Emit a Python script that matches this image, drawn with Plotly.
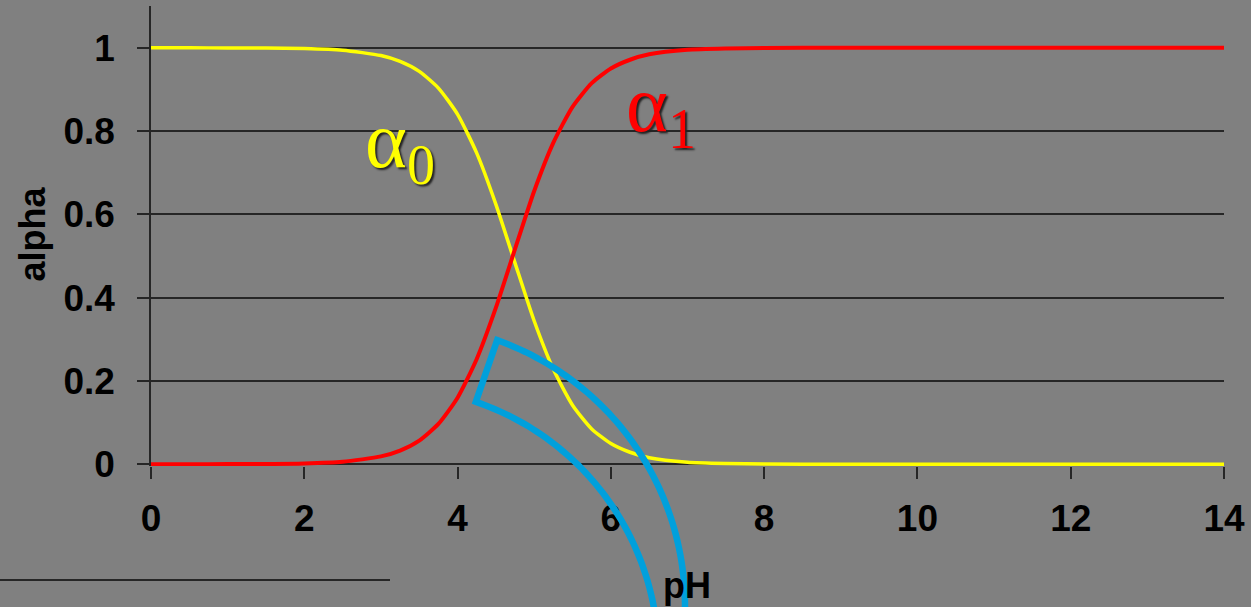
import numpy as np
import plotly.graph_objects as go

# ---- data ----
ph = [0, 0.5, 1, 1.5, 2, 2.5, 3, 3.25, 3.5, 3.75, 4, 4.25, 4.5, 4.75, 5, 5.25,
      5.5, 5.75, 6, 6.25, 6.5, 7, 7.5, 8, 9, 10, 11, 12, 13, 14]
alpha0 = [1.000, 1.000, 0.999, 0.999, 0.998, 0.994, 0.981, 0.967, 0.943, 0.903,
          0.840, 0.747, 0.624, 0.483, 0.344, 0.228, 0.142, 0.085, 0.050, 0.029,
          0.016, 0.005, 0.002, 0.001, 0.000, 0.000, 0.000, 0.000, 0.000, 0.000]
alpha1 = [0.000, 0.000, 0.001, 0.001, 0.002, 0.006, 0.019, 0.033, 0.057, 0.097,
          0.160, 0.253, 0.376, 0.517, 0.656, 0.772, 0.858, 0.915, 0.950, 0.971,
          0.984, 0.995, 0.998, 0.999, 1.000, 1.000, 1.000, 1.000, 1.000, 1.000]
x_ticks = [0, 2, 4, 6, 8, 10, 12, 14]
x_ticktext = ["0", "2", "4", "6", "8", "10", "12", "14"]
y_ticks = [0, 0.2, 0.4, 0.6, 0.8, 1]
y_ticktext = ["0", "0.2", "0.4", "0.6", "0.8", "1"]

W, H = 1251, 607
ML, MR, MT, MB = 151, 27, 6, 141
PW, PH = W - ML - MR, H - MT - MB

def px2paper(x, y):
    return (x - ML) / PW, (H - MB - y) / PH

BG = "#808080"
DARK = "#262626"
FONT = "Liberation Sans, Arial, sans-serif"

fig = go.Figure()
fig.add_trace(go.Scatter(x=ph, y=alpha0, mode="lines", line=dict(color="#FFFF00", width=3.5, shape="spline", smoothing=0.6),
                         showlegend=False, hoverinfo="skip"))
fig.add_trace(go.Scatter(x=ph, y=alpha1, mode="lines", line=dict(color="#FF0000", width=4, shape="spline", smoothing=0.6),
                         showlegend=False, hoverinfo="skip"))

# blue block-arc outline (decorative shape, pixel geometry)
a_out = np.radians(np.linspace(-70.5, 3, 60))
a_in = np.radians(np.linspace(-5, -71.2, 60))
pts = [(403 + 282 * np.cos(a), 606 + 282 * np.sin(a)) for a in a_out]
pts += [(389 + 269.5 * np.cos(a), 657 + 269.5 * np.sin(a)) for a in a_in]
pp = [px2paper(x, y) for x, y in pts]
path = "M " + " L ".join(f"{x:.5f},{y:.5f}" for x, y in pp) + " Z"

shapes = [
    dict(type="path", xref="paper", yref="paper", path=path,
         line=dict(color="#00A0DC", width=6.5), fillcolor="rgba(0,0,0,0)", layer="above"),
]
x0, y0 = px2paper(0, 580)
x1, _ = px2paper(390, 580)
shapes.append(dict(type="line", xref="paper", yref="paper", x0=x0, x1=x1, y0=y0, y1=y0,
                   line=dict(color=DARK, width=2)))

ax0, ay0 = px2paper(9, 234)
tx, ty = px2paper(687, 608)
annotations = [
    dict(text="<b>alpha</b>", xref="paper", yref="paper", x=ax0, y=ay0, textangle=-90,
         showarrow=False, font=dict(family=FONT, size=36, color="black")),
    dict(text="<b>pH</b>", xref="paper", yref="paper", x=tx, y=ty,
         showarrow=False, font=dict(family=FONT, size=36, color="black")),
    dict(text="α<sub>0</sub>", xref="x", yref="y", x=3.25, y=0.765, showarrow=False,
         font=dict(family="Liberation Serif, Times New Roman, serif", size=80, color="#FFFF00",
                   shadow="2px 2px 2px #222")),
    dict(text="α<sub>1</sub>", xref="x", yref="y", x=6.65, y=0.85, showarrow=False,
         font=dict(family="Liberation Serif, Times New Roman, serif", size=80, color="#FF0000",
                   shadow="2px 2px 2px #222")),
]

fig.update_layout(
    width=W, height=H, margin=dict(l=ML, r=MR, t=MT, b=MB),
    paper_bgcolor=BG, plot_bgcolor=BG,
    shapes=shapes, annotations=annotations,
    xaxis=dict(range=[0, 14], tickvals=x_ticks, ticktext=x_ticktext, showgrid=False, zeroline=False,
               showline=False, ticks="outside", ticklen=12, tickwidth=1.5, tickcolor=DARK,
               tickfont=dict(family=FONT, size=37, color="black", weight="bold"), ticklabelstandoff=8),
    yaxis=dict(range=[-0.004, 1.1], tickvals=y_ticks, ticktext=y_ticktext, showgrid=True,
               gridcolor=DARK, gridwidth=1.5, zeroline=True, zerolinecolor=DARK, zerolinewidth=1.5,
               showline=True, linecolor=DARK, linewidth=1.5, ticks="outside", ticklen=12, tickwidth=1.5,
               tickcolor=DARK, tickfont=dict(family=FONT, size=37, color="black", weight="bold"),
               ticklabelstandoff=15),
)

fig.write_html("out.html")
